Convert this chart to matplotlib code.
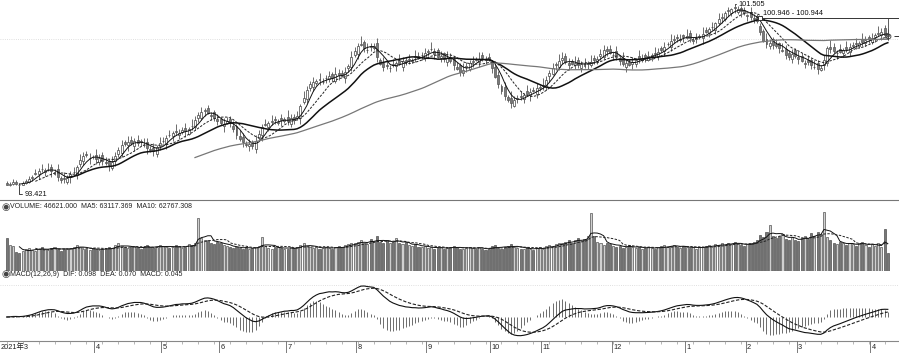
import matplotlib
matplotlib.use("Agg")
import matplotlib.pyplot as plt
import numpy as np
import pandas as pd

# daily bars, 2021-02-22 .. 2022-04-12
opens = [93.56, 93.45, 93.53, 93.62, 93.49, 93.48, 93.54, 93.61, 93.78, 93.98,
         93.96, 94.20, 94.05, 94.18, 94.27, 93.98, 94.20, 93.78, 93.79, 93.60,
         93.82, 94.04, 93.93, 94.43, 94.54, 94.87, 94.67, 94.74, 94.80, 94.51,
         94.83, 94.50, 94.56, 94.23, 94.54, 94.85, 94.92, 95.41, 95.26, 95.50,
         95.21, 95.48, 95.43, 95.28, 95.41, 95.08, 95.14, 94.85, 95.21, 95.43,
         95.32, 95.73, 95.66, 95.90, 95.71, 95.84, 96.02, 95.77, 96.13, 96.07,
         96.48, 96.47, 96.79, 96.92, 96.62, 96.72, 96.43, 96.44, 96.11, 96.25,
         96.42, 96.13, 96.13, 95.66, 95.63, 95.30, 95.20, 95.39, 95.10, 95.59,
         95.71, 96.17, 96.07, 96.29, 96.42, 96.26, 96.45, 96.33, 96.53, 96.20,
         96.52, 96.46, 96.45, 97.17, 97.33, 97.83, 97.86, 98.05, 98.22, 98.06,
         98.24, 98.22, 98.46, 98.13, 98.49, 98.49, 98.24, 98.69, 98.76, 99.31,
         99.34, 99.75, 99.88, 99.50, 99.68, 99.61, 99.81, 99.07, 98.94, 98.85,
         98.69, 98.87, 98.81, 99.05, 98.76, 99.08, 99.07, 99.01, 99.23, 99.26,
         99.27, 99.16, 99.43, 99.56, 99.45, 99.50, 99.16, 99.36, 98.99, 99.21,
         99.12, 98.74, 98.83, 98.49, 98.73, 98.67, 98.99, 99.12, 98.96, 99.28,
         99.12, 99.18, 98.99, 98.76, 98.40, 97.88, 97.84, 97.41, 97.38, 97.01,
         97.32, 97.46, 97.30, 97.66, 97.50, 97.74, 97.55, 97.80, 97.90, 97.84,
         98.33, 98.45, 98.82, 98.76, 99.08, 99.25, 98.95, 99.01, 98.85, 99.05,
         98.72, 98.94, 98.89, 98.83, 99.14, 99.03, 99.23, 99.21, 99.57, 99.56,
         99.27, 99.45, 99.16, 99.14, 98.76, 98.99, 98.88, 98.87, 99.23, 99.08,
         99.27, 99.07, 99.22, 99.38, 99.23, 99.59, 99.48, 99.76, 99.66, 99.97,
         100.10, 99.95, 100.17, 100.06, 100.26, 99.93, 100.02, 100.10, 100.04, 100.40,
         100.29, 100.53, 100.42, 100.74, 100.96, 100.89, 101.30, 101.19, 101.43, 101.23,
         101.37, 101.32, 101.03, 101.21, 100.96, 101.02, 100.60, 100.38, 100.01, 99.68,
         99.99, 99.78, 99.81, 99.48, 99.57, 99.38, 99.09, 99.50, 99.21, 99.23,
         98.90, 99.07, 99.07, 98.74, 98.92, 98.63, 98.82, 98.94, 99.66, 99.65,
         99.36, 99.54, 99.39, 99.63, 99.43, 99.70, 99.83, 99.68, 99.99, 99.84,
         100.08, 99.88, 100.11, 100.22, 100.17, 100.49, 100.25]
highs = [93.66, 93.62, 93.72, 93.68, 93.58, 93.66, 93.74, 93.86, 93.92, 94.17,
         94.22, 94.42, 94.22, 94.47, 94.43, 94.17, 94.42, 93.86, 94.07, 93.94,
         94.08, 94.27, 94.36, 94.87, 94.93, 94.99, 94.90, 94.82, 95.08, 94.84,
         94.95, 94.72, 94.64, 94.78, 94.93, 95.16, 95.48, 95.49, 95.68, 95.66,
         95.56, 95.70, 95.51, 95.56, 95.57, 95.20, 95.36, 95.25, 95.63, 95.60,
         95.70, 95.95, 95.88, 96.18, 95.96, 96.06, 96.24, 96.06, 96.41, 96.54,
         96.73, 96.97, 96.92, 97.05, 96.74, 96.84, 96.65, 96.52, 96.49, 96.50,
         96.54, 96.35, 96.21, 95.94, 95.79, 95.42, 95.53, 95.47, 95.72, 95.92,
         96.19, 96.43, 96.33, 96.62, 96.58, 96.42, 96.67, 96.51, 96.81, 96.64,
         96.64, 96.79, 97.10, 97.66, 97.89, 98.12, 98.31, 98.22, 98.50, 98.25,
         98.39, 98.58, 98.54, 98.73, 98.65, 98.61, 98.76, 98.89, 99.49, 99.64,
         99.83, 100.12, 99.96, 99.81, 99.84, 99.83, 100.03, 99.15, 99.22, 99.01,
         98.84, 99.09, 99.03, 99.33, 99.20, 99.20, 99.35, 99.16, 99.51, 99.42,
         99.42, 99.61, 99.56, 99.85, 99.61, 99.62, 99.48, 99.44, 99.45, 99.37,
         99.24, 98.96, 98.91, 98.91, 98.97, 99.07, 99.26, 99.20, 99.41, 99.44,
         99.24, 99.40, 99.07, 99.04, 98.56, 98.00, 98.06, 97.49, 97.66, 97.44,
         97.50, 97.68, 97.59, 97.94, 97.80, 97.86, 98.04, 97.95, 98.24, 98.34,
         98.62, 98.94, 98.98, 99.32, 99.42, 99.37, 99.17, 99.09, 99.23, 99.21,
         99.02, 99.16, 99.03, 99.27, 99.30, 99.25, 99.57, 99.72, 99.70, 99.72,
         99.42, 99.67, 99.24, 99.42, 99.11, 99.11, 99.21, 99.16, 99.51, 99.33,
         99.39, 99.48, 99.38, 99.66, 99.60, 99.71, 99.88, 99.88, 100.21, 100.18,
         100.22, 100.24, 100.25, 100.44, 100.42, 100.10, 100.29, 100.24, 100.53, 100.56,
         100.55, 100.78, 100.78, 101.16, 101.17, 101.27, 101.45, 101.41, 101.505, 101.47,
         101.46, 101.44, 101.14, 101.42, 101.12, 101.14, 100.70, 100.46, 100.29, 100.00,
         100.11, 100.00, 99.89, 99.81, 99.73, 99.50, 99.57, 99.58, 99.49, 99.39,
         99.07, 99.29, 99.15, 99.05, 99.08, 98.84, 99.30, 99.70, 99.94, 99.81,
         99.51, 99.76, 99.61, 99.91, 99.82, 99.87, 100.05, 99.92, 100.27, 100.14,
         100.20, 100.29, 100.28, 100.57, 100.50, 100.61, 100.47]
lows = [93.45, 93.44, 93.48, 93.46, 93.421, 93.45, 93.50, 93.57, 93.66, 93.91,
        93.76, 94.05, 93.87, 94.08, 93.85, 93.91, 93.63, 93.55, 93.56, 93.50,
        93.57, 93.97, 93.73, 94.29, 94.36, 94.71, 94.42, 94.65, 94.43, 94.37,
        94.37, 94.36, 94.12, 94.16, 94.34, 94.71, 94.74, 95.21, 95.01, 95.28,
        95.01, 95.21, 95.22, 95.16, 94.88, 94.97, 94.79, 94.71, 95.03, 95.33,
        95.07, 95.64, 95.46, 95.71, 95.53, 95.74, 95.64, 95.70, 95.92, 95.93,
        96.30, 96.37, 96.54, 96.63, 96.37, 96.34, 96.16, 96.15, 95.86, 96.18,
        96.05, 95.84, 95.53, 95.43, 95.15, 95.19, 95.00, 95.08, 94.92, 95.49,
        95.46, 96.10, 95.87, 96.15, 96.20, 96.16, 96.13, 96.26, 96.14, 96.06,
        96.20, 96.36, 96.20, 97.10, 97.13, 97.69, 97.68, 97.95, 97.93, 97.99,
        98.04, 98.08, 98.09, 98.03, 98.16, 98.29, 98.04, 98.55, 98.58, 99.21,
        99.09, 99.68, 99.42, 99.36, 99.48, 99.51, 98.96, 98.83, 98.57, 98.67,
        98.51, 98.76, 98.56, 98.83, 98.56, 98.85, 98.89, 98.91, 98.96, 99.10,
        99.07, 99.02, 99.25, 99.46, 99.10, 99.14, 98.96, 98.99, 98.81, 98.94,
        98.61, 98.61, 98.34, 98.35, 98.55, 98.57, 98.74, 99.01, 98.76, 99.03,
        98.90, 99.03, 98.47, 98.25, 97.80, 97.55, 97.28, 97.18, 96.90, 96.94,
        97.12, 97.28, 97.12, 97.45, 97.25, 97.62, 97.35, 97.66, 97.72, 97.74,
        98.08, 98.38, 98.62, 98.62, 98.90, 98.89, 98.61, 98.83, 98.65, 98.72,
        98.54, 98.71, 98.64, 98.76, 98.88, 98.89, 99.05, 99.11, 99.23, 99.32,
        99.07, 99.07, 98.86, 98.80, 98.51, 98.79, 98.68, 98.73, 98.95, 98.98,
        98.96, 99.00, 99.02, 99.21, 99.05, 99.43, 99.23, 99.69, 99.46, 99.83,
        99.89, 99.85, 99.86, 99.99, 99.87, 99.79, 99.84, 100.00, 99.79, 100.27,
        100.09, 100.39, 100.24, 100.64, 100.71, 100.82, 101.04, 101.05, 101.19, 101.13,
        100.99, 101.08, 100.83, 100.87, 100.74, 100.73, 100.20, 99.86, 99.60, 99.54,
        99.57, 99.61, 99.37, 99.41, 99.10, 99.07, 98.91, 99.16, 98.88, 98.97,
        98.70, 98.85, 98.68, 98.64, 98.43, 98.56, 98.62, 98.80, 99.39, 99.38,
        99.11, 99.37, 99.19, 99.43, 99.25, 99.60, 99.55, 99.61, 99.69, 99.70,
        99.84, 99.78, 99.86, 100.15, 99.97, 100.06, 99.98]
closes = [93.47, 93.51, 93.60, 93.51, 93.47, 93.56, 93.65, 93.74, 93.83, 94.01,
          94.10, 94.19, 94.14, 94.19, 94.10, 94.05, 93.83, 93.69, 93.74, 93.78,
          93.96, 94.05, 94.28, 94.59, 94.77, 94.81, 94.68, 94.72, 94.63, 94.68,
          94.55, 94.46, 94.37, 94.50, 94.77, 95.04, 95.26, 95.31, 95.40, 95.35,
          95.44, 95.35, 95.40, 95.26, 95.13, 95.04, 94.99, 95.17, 95.35, 95.44,
          95.58, 95.71, 95.80, 95.85, 95.80, 95.94, 95.89, 95.98, 96.12, 96.38,
          96.61, 96.75, 96.84, 96.70, 96.57, 96.48, 96.34, 96.25, 96.21, 96.34,
          96.25, 95.98, 95.71, 95.53, 95.40, 95.26, 95.31, 95.22, 95.44, 95.76,
          96.07, 96.21, 96.25, 96.34, 96.38, 96.30, 96.38, 96.43, 96.34, 96.48,
          96.38, 96.57, 97.02, 97.38, 97.73, 98.00, 98.09, 98.14, 98.18, 98.09,
          98.27, 98.36, 98.27, 98.45, 98.41, 98.36, 98.54, 98.81, 99.21, 99.48,
          99.71, 99.80, 99.62, 99.53, 99.66, 99.71, 99.21, 98.90, 98.77, 98.81,
          98.72, 98.86, 98.95, 98.90, 99.04, 98.99, 99.13, 99.08, 99.21, 99.17,
          99.30, 99.39, 99.48, 99.57, 99.35, 99.21, 99.26, 99.13, 99.17, 99.04,
          98.86, 98.68, 98.54, 98.63, 98.81, 98.95, 99.04, 99.08, 99.13, 99.17,
          99.08, 99.13, 98.72, 98.32, 98.00, 97.69, 97.46, 97.28, 97.15, 97.28,
          97.38, 97.42, 97.51, 97.55, 97.64, 97.69, 97.82, 97.87, 97.96, 98.18,
          98.50, 98.72, 98.90, 99.04, 99.17, 98.99, 98.86, 98.90, 98.95, 98.86,
          98.90, 98.81, 98.95, 98.99, 99.08, 99.13, 99.35, 99.53, 99.48, 99.39,
          99.30, 99.21, 99.04, 98.90, 98.95, 98.86, 98.99, 99.08, 99.13, 99.17,
          99.21, 99.26, 99.30, 99.35, 99.44, 99.53, 99.66, 99.80, 99.93, 100.02,
          100.07, 100.02, 100.11, 100.16, 100.07, 99.98, 100.07, 100.16, 100.25, 100.34,
          100.43, 100.56, 100.70, 100.88, 101.01, 101.15, 101.24, 101.33, 101.37, 101.33,
          101.24, 101.15, 101.06, 101.01, 100.92, 100.83, 100.34, 99.93, 99.80, 99.84,
          99.75, 99.71, 99.62, 99.53, 99.30, 99.21, 99.35, 99.26, 99.13, 99.04,
          98.95, 98.99, 98.86, 98.77, 98.68, 98.72, 99.08, 99.62, 99.57, 99.48,
          99.39, 99.44, 99.53, 99.57, 99.66, 99.75, 99.80, 99.84, 99.89, 99.98,
          100.02, 100.07, 100.20, 100.29, 100.34, 100.20, 100.16]
# volume in thousands
volumes = [83, 66, 64, 48, 47, 50, 56, 58, 54, 52,
           57, 60, 55, 53, 58, 61, 56, 52, 55, 57,
           59, 62, 66, 60, 57, 55, 54, 58, 56, 53,
           55, 57, 62, 58, 65, 70, 64, 61, 58, 60,
           63, 59, 57, 61, 66, 60, 58, 62, 67, 64,
           61, 58, 60, 65, 63, 59, 62, 68, 66, 72,
           134, 84, 78, 80, 72, 69, 75, 70, 66, 63,
           60, 58, 62, 59, 57, 61, 56, 58, 60, 64,
           86, 63, 59, 57, 60, 62, 58, 55, 57, 60,
           58, 62, 66, 70, 64, 61, 58, 60, 57, 59,
           62, 58, 56, 60, 63, 61, 65, 68, 72, 70,
           74, 78, 71, 69, 82, 76, 88, 73, 70, 79,
           72, 75, 84, 70, 68, 73, 66, 64, 69, 62,
           60, 63, 58, 61, 57, 59, 62, 56, 58, 60,
           64, 61, 57, 55, 59, 62, 58, 56, 60, 57,
           54, 56, 63, 66, 59, 57, 61, 64, 68, 62,
           58, 55, 57, 60, 56, 54, 58, 61, 57, 63,
           66, 62, 68, 72, 70, 75, 78, 72, 80, 84,
           76, 82, 88, 148, 90, 74, 70, 66, 72, 68,
           64, 61, 63, 59, 62, 66, 60, 58, 61, 57,
           59, 62, 58, 56, 60, 63, 65, 61, 64, 67,
           62, 59, 63, 60, 58, 61, 57, 62, 60, 64,
           66, 62, 68, 65, 70, 67, 72, 69, 74, 70,
           66, 63, 68, 72, 75, 80, 92, 86, 98, 116,
           90, 84, 88, 95, 82, 78, 86, 80, 76, 84,
           90, 82, 96, 88, 100, 94, 150, 86, 78, 72,
           68, 74, 70, 66, 72, 68, 64, 70, 75, 66,
           62, 68, 64, 70, 60, 108, 46.6]

month_starts = [5, 28, 49, 67, 88, 110, 132, 152, 168, 190, 213, 232, 248, 271]
month_labels = ["2021年3", "4", "5", "6", "7", "8", "9", "10", "11", "12", "1", "2", "3", "4"]
ma_periods = [5, 10, 20, 60]
mark_price = 100.946
mark_start = 236
vol_text = "VOLUME: 46621.000  MA5: 63117.369  MA10: 62767.308"
macd_text = "MACD(12,26,9)  DIF: 0.098  DEA: 0.070  MACD: 0.045"

plt.rcParams['font.family'] = ['Liberation Sans', 'Noto Sans CJK SC', 'DejaVu Sans']

o = np.array(opens)
h = np.array(highs)
l = np.array(lows)
c = np.array(closes)
v = np.array(volumes)
n = len(c)
idx = np.arange(n)
up = c >= o
s = pd.Series(c)

W, H = 899, 354
fig = plt.figure(figsize=(W / 100, H / 100), dpi=100)


def px_axes(top, bottom):
    return fig.add_axes([0, 1 - bottom / H, 1, (bottom - top) / H])


ax_p = px_axes(0, 200)
ax_v = px_axes(212, 271)
ax_m = px_axes(282, 341)
ax_d = px_axes(341, 353)
xlim = (-2.07, 279.5)
for ax in (ax_p, ax_v, ax_m, ax_d):
    ax.set_xlim(xlim)
    ax.set_xticks([])
    ax.set_yticks([])
    for sp in ax.spines.values():
        sp.set_visible(False)

# ---- price panel
ax_p.set_ylim(92.80, 101.75)
ax_p.spines['bottom'].set_visible(True)
ax_p.spines['bottom'].set_color('#777')
ax_p.spines['bottom'].set_linewidth(0.8)
ax_p.axhline(100, color='#d5d5d5', lw=0.6, ls=':', zorder=0)

ax_p.vlines(idx, l, h, color='#555', lw=0.6, zorder=2)
body_lo = np.minimum(o, c)
body_h = np.maximum(np.abs(c - o), 0.01)
ax_p.bar(idx[up], body_h[up], bottom=body_lo[up], width=0.62,
         facecolor='white', edgecolor='#444', lw=0.5, zorder=3)
ax_p.bar(idx[~up], body_h[~up], bottom=body_lo[~up], width=0.62,
         facecolor='#7a7a7a', edgecolor='#555', lw=0.5, zorder=3)

ma_style = {5: dict(color='#111', lw=0.7),
            10: dict(color='#222', lw=0.7, ls=(0, (2.5, 1.5))),
            20: dict(color='#111', lw=1.1),
            60: dict(color='#777', lw=0.9)}
for p in ma_periods:
    ax_p.plot(idx, s.rolling(p).mean(), zorder=4, **ma_style[p])

# low / high markers
il = int(np.argmin(l))
ax_p.annotate(f"{l[il]:.3f}", xy=(il, l[il]), xytext=(4, -6), textcoords='offset points',
              fontsize=5.3, ha='left', va='center', color='#111',
              arrowprops=dict(arrowstyle='-', lw=0.6, color='#222', shrinkA=0, shrinkB=0,
                              connectionstyle='angle,angleA=0,angleB=90,rad=0'))
ih = int(np.argmax(h))
ax_p.annotate(f"{h[ih]:.3f}", xy=(ih, h[ih]), xytext=(3, 1), textcoords='offset points',
              fontsize=5.3, ha='left', va='center', color='#111',
              arrowprops=dict(arrowstyle='-', lw=0.6, color='#222', shrinkA=0, shrinkB=0,
                              connectionstyle='angle,angleA=0,angleB=90,rad=0'))

# horizontal price mark
ax_p.hlines(mark_price, mark_start, xlim[1], color='#333', lw=0.7, zorder=5)
ax_p.plot(mark_start, mark_price, 's', ms=2.5, mfc='white', mec='#222', mew=0.6, zorder=6)
ax_p.text(mark_start + 0.8, mark_price + 0.04, f"{mark_price:.3f} - 100.944",
          fontsize=5.3, ha='left', va='bottom', color='#111')
ax_p.vlines(n - 1, l[-1], mark_price, color='#444', lw=0.6, zorder=5)
ax_p.plot(n - 1, c[-1], 'o', ms=3.5, mfc='none', mec='#333', mew=0.6, zorder=6)
ax_p.hlines(c[-1], n + 1.0, xlim[1], color='#333', lw=0.7)

# ---- volume panel
ax_v.set_ylim(0, 150)
ax_v.bar(idx[up], v[up], width=0.65, facecolor='#d0d0d0', edgecolor='#444', lw=0.45)
ax_v.bar(idx[~up], v[~up], width=0.65, facecolor='#777', edgecolor='#444', lw=0.45)
vs = pd.Series(v)
ax_v.plot(idx, vs.rolling(5).mean(), color='#111', lw=0.7)
ax_v.plot(idx, vs.rolling(10).mean(), color='#222', lw=0.7, ls=(0, (2.5, 1.5)))

# ---- MACD panel
ema12 = s.ewm(span=12, adjust=False).mean()
ema26 = s.ewm(span=26, adjust=False).mean()
dif = ema12 - ema26
dea = dif.ewm(span=9, adjust=False).mean()
hist = 2 * (dif - dea)
ppu = 31 / np.abs(dif).max()
ax_m.set_ylim(-24 / ppu, 35 / ppu)
ax_m.axhline(32 / ppu, color='#d5d5d5', lw=0.6, ls=':', zorder=0)
ax_m.vlines(idx, 0, hist, color='#555', lw=0.6)
ax_m.plot(idx, dif, color='#111', lw=0.8)
ax_m.plot(idx, dea, color='#222', lw=0.8, ls=(0, (3, 1.5)))

# ---- date strip
ax_d.set_ylim(0, 1)
ax_d.axhline(1, color='#888', lw=0.8, clip_on=False)
ax_d.vlines(np.arange(0, n, 5), 0.72, 1, color='#999', lw=0.5)
ax_d.vlines(np.array(month_starts[1:]) - 0.5, 0, 1, color='#666', lw=0.6)
for k, (ms, lab) in enumerate(zip(month_starts, month_labels)):
    xpos = xlim[0] + 0.3 if k == 0 else ms - 0.1
    ax_d.text(xpos, 0.45, lab, fontsize=5.3, ha='left', va='center', color='#222')

# ---- panel headers
for ypx, txt in ((207, vol_text), (274, macd_text)):
    fig.text(1 / W, 1 - ypx / H, "◉", fontsize=7, color='#444', va='center', ha='left',
             family=['DejaVu Sans'])
    fig.text(10 / W, 1 - ypx / H, txt, fontsize=5, color='#222', va='center', ha='left')

fig.savefig("out.png", dpi=100)
